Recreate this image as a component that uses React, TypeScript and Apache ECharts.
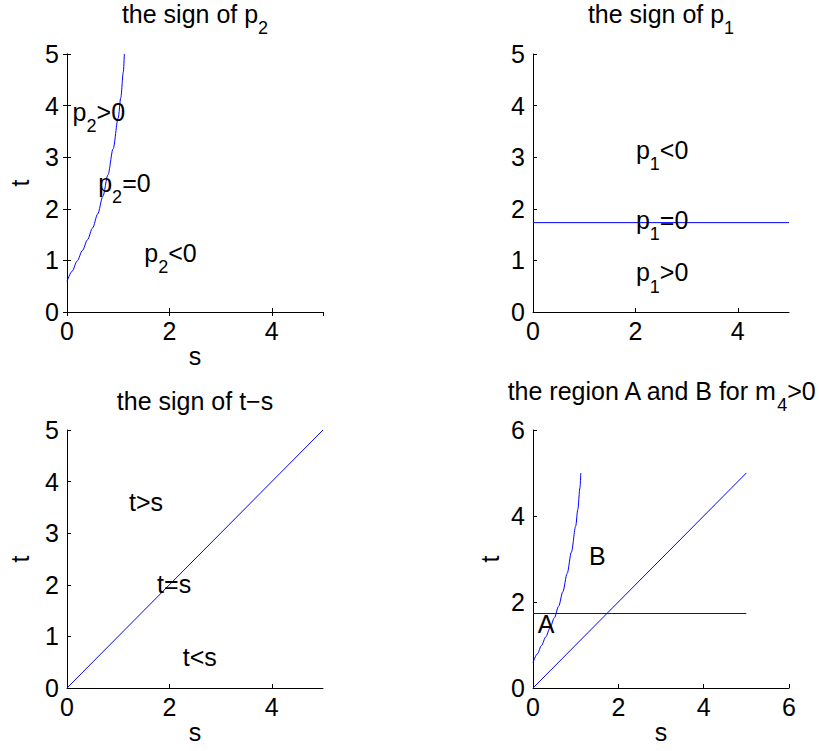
import React, { useEffect, useRef } from "react";
import * as echarts from "echarts";

// p2 = 0 boundary curve
const curveS = [0, 0.1, 0.2, 0.3, 0.4, 0.5, 0.6, 0.7, 0.8, 0.9, 1.0, 1.05, 1.1, 1.12];
const curveT = [0.59, 0.79, 0.99, 1.19, 1.4, 1.63, 1.9, 2.24, 2.66, 3.16, 3.76, 4.15, 4.65, 5.0];
// p1 = 0 boundary (horizontal line)
const flatS = [0, 5];
const flatT = [1.732, 1.732];
// t = s line
const diagS = [0, 5];
const diagT = [0, 5];

const titleTexts = [
  "{n|the sign of p}{sub|2}",
  "{n|the sign of p}{sub|1}",
  "{n|the sign of t\u2212s}",
  "{n|the region A and B for m}{sub|4}{n|>0}",
];

const labelsTL = [
  { s: 0.1, t: 3.85, text: "{n|p}{sub|2}{n|>0}" },
  { s: 0.6, t: 2.48, text: "{n|p}{sub|2}{n|=0}" },
  { s: 1.5, t: 1.12, text: "{n|p}{sub|2}{n|<0}" },
];
const labelsTR = [
  { s: 2.0, t: 3.12, text: "{n|p}{sub|1}{n|<0}" },
  { s: 2.0, t: 1.76, text: "{n|p}{sub|1}{n|=0}" },
  { s: 2.0, t: 0.74, text: "{n|p}{sub|1}{n|>0}" },
];
const labelsBL = [
  { s: 1.2, t: 3.58, text: "{n|t>s}" },
  { s: 1.75, t: 1.98, text: "{n|t=s}" },
  { s: 2.25, t: 0.58, text: "{n|t<s}" },
];
const labelsBR = [
  { s: 0.1, t: 1.46, text: "{n|A}" },
  { s: 1.3, t: 3.04, text: "{n|B}" },
];

const FONT = "'Liberation Sans', Arial, Helvetica, sans-serif";
const FS = 25;
const BLUE = "#0000ff";

const rich = {
  n: { fontSize: FS, lineHeight: 28, verticalAlign: "top", fontFamily: FONT, color: "#000" },
  sub: {
    fontSize: 18,
    lineHeight: 18,
    padding: [18, 0, 0, 0],
    verticalAlign: "top",
    fontFamily: FONT,
    color: "#000",
  },
};

const zip = (a: number[], b: number[]) => a.map((v, i) => [v, b[i]]);

function valueAxis(gridIndex: number, max: number, interval: number, extra: any = {}) {
  return {
    type: "value",
    gridIndex,
    min: 0,
    max,
    interval,
    splitLine: { show: false },
    axisLine: { show: true, lineStyle: { color: "#000", width: 1 } },
    axisTick: { show: true, inside: true, length: 4, lineStyle: { color: "#000", width: 1 } },
    axisLabel: { show: true, color: "#000", fontSize: FS, fontFamily: FONT, margin: 8 },
    ...extra,
  };
}

function lineSeries(xi: number, yi: number, s: number[], t: number[], smooth: boolean) {
  return {
    type: "line",
    xAxisIndex: xi,
    yAxisIndex: yi,
    data: zip(s, t),
    showSymbol: false,
    symbol: "none",
    smooth: smooth ? 0.3 : false,
    smoothMonotone: smooth ? "x" : undefined,
    silent: true,
    itemStyle: { color: BLUE },
    lineStyle: { color: BLUE, width: 1, opacity: 1 },
    z: 3,
  };
}

function labelSeries(xi: number, yi: number, labels: { s: number; t: number; text: string }[]) {
  return {
    type: "scatter",
    xAxisIndex: xi,
    yAxisIndex: yi,
    silent: true,
    symbolSize: 1,
    itemStyle: { color: "rgba(0,0,0,0)" },
    data: labels.map((l) => ({ value: [l.s, l.t], text: l.text })),
    label: {
      show: true,
      position: "right",
      distance: 0,
      opacity: 1,
      color: "#000",
      formatter: (p: any) => p.data.text,
      rich,
    },
    z: 4,
  };
}

export default function App() {
  const ref = useRef<HTMLDivElement>(null);
  useEffect(() => {
    if (!ref.current) return;
    const chart = echarts.init(ref.current, null, { renderer: "svg" });
    const nameStyle = { color: "#000", fontSize: FS, fontFamily: FONT };
    const xLabel = { color: "#000", fontSize: FS, fontFamily: FONT, margin: 6 };
    const grids = [
      { left: 67, top: 54, width: 256, height: 258 },
      { left: 533, top: 54, width: 256, height: 258 },
      { left: 67, top: 430, width: 256, height: 258 },
      { left: 533, top: 430, width: 256, height: 258 },
    ];
    const titleTops = [1, 1, 388, 378];
    const option: any = {
      animation: false,
      backgroundColor: "#fff",
      textStyle: { fontFamily: FONT },
      title: titleTexts.map((txt, i) => ({
        text: txt,
        left: grids[i].left + grids[i].width / 2,
        top: titleTops[i],
        textAlign: "center",
        padding: 0,
        textStyle: { fontSize: FS, fontWeight: "normal", color: "#000", fontFamily: FONT, rich },
      })),
      grid: grids.map((g) => ({ ...g, containLabel: false })),
      xAxis: [
        valueAxis(0, 5, 2, {
          position: "bottom",
          axisLabel: { ...xLabel, showMaxLabel: false },
          name: "s",
          nameLocation: "middle",
          nameGap: 26,
          nameTextStyle: nameStyle,
        }),
        valueAxis(0, 5, 2, { position: "top", axisLabel: { show: false } }),
        valueAxis(1, 5, 2, {
          position: "bottom",
          axisLabel: { ...xLabel, showMaxLabel: false },
        }),
        valueAxis(2, 5, 2, {
          position: "bottom",
          axisLabel: { ...xLabel, showMaxLabel: false },
          name: "s",
          nameLocation: "middle",
          nameGap: 28,
          nameTextStyle: nameStyle,
        }),
        valueAxis(3, 6, 2, {
          position: "bottom",
          axisLabel: { ...xLabel },
          name: "s",
          nameLocation: "middle",
          nameGap: 28,
          nameTextStyle: nameStyle,
        }),
      ],
      yAxis: [
        valueAxis(0, 5, 1, {
          position: "left",
          name: "t",
          nameLocation: "middle",
          nameGap: 35,
          nameTextStyle: nameStyle,
        }),
        valueAxis(0, 5, 1, { position: "right", axisLabel: { show: false } }),
        valueAxis(1, 5, 1, { position: "left" }),
        valueAxis(2, 5, 1, {
          position: "left",
          name: "t",
          nameLocation: "middle",
          nameGap: 35,
          nameTextStyle: nameStyle,
        }),
        valueAxis(3, 6, 2, {
          position: "left",
          name: "t",
          nameLocation: "middle",
          nameGap: 31,
          nameTextStyle: nameStyle,
        }),
      ],
      series: [
        lineSeries(0, 0, curveS, curveT, true),
        labelSeries(0, 0, labelsTL),
        lineSeries(2, 2, flatS, flatT, false),
        labelSeries(2, 2, labelsTR),
        lineSeries(3, 3, diagS, diagT, false),
        labelSeries(3, 3, labelsBL),
        lineSeries(4, 4, curveS, curveT, true),
        lineSeries(4, 4, flatS, flatT, false),
        lineSeries(4, 4, diagS, diagT, false),
        labelSeries(4, 4, labelsBR),
      ],
    };
    chart.setOption(option);
    return () => chart.dispose();
  }, []);
  return (
    <div
      ref={ref}
      style={{ position: "absolute", left: 0, top: 0, width: 819, height: 751, background: "#fff" }}
    />
  );
}
